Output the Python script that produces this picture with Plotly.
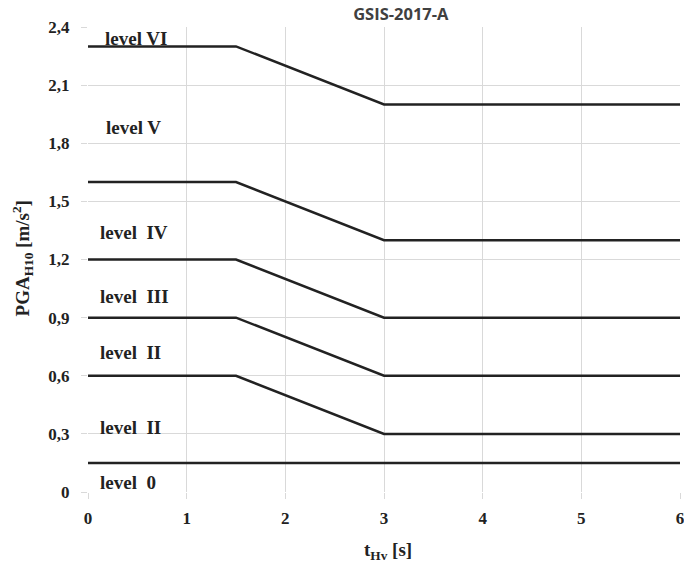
import plotly.graph_objects as go

# Data
t_points = [0, 1.5, 3, 6]
series = {
    "level 0 boundary": [0.15, 0.15, 0.15, 0.15],
    "II": [0.6, 0.6, 0.3, 0.3],
    "III": [0.9, 0.9, 0.6, 0.6],
    "IV": [1.2, 1.2, 0.9, 0.9],
    "V": [1.6, 1.6, 1.3, 1.3],
    "VI": [2.3, 2.3, 2.0, 2.0],
}
level_labels = ["level VI", "level V", "level  IV", "level  III", "level  II", "level  II", "level  0"]
level_label_y = [2.34, 1.88, 1.34, 1.01, 0.72, 0.335, 0.05]
level_label_x = [0.15, 0.16, 0.1, 0.1, 0.1, 0.1, 0.1]

y_tickvals = [0, 0.3, 0.6, 0.9, 1.2, 1.5, 1.8, 2.1, 2.4]
y_ticktext = ["0", "0,3", "0,6", "0,9", "1,2", "1,5", "1,8", "2,1", "2,4"]
x_tickvals = [0, 1, 2, 3, 4, 5, 6]
x_ticktext = ["0", "1", "2", "3", "4", "5", "6"]

serif = "Liberation Serif, Times New Roman, serif"
txtcol = "#222222"

fig = go.Figure()
for name, vals in series.items():
    fig.add_trace(go.Scatter(x=t_points, y=vals, mode="lines", name=name,
                             line=dict(color="#222222", width=2.5),
                             cliponaxis=False, showlegend=False, hoverinfo="skip"))

for txt, xv, yv in zip(level_labels, level_label_x, level_label_y):
    fig.add_annotation(x=xv, y=yv, text=txt, showarrow=False,
                       xanchor="left", yanchor="middle",
                       font=dict(family=serif, size=19, color=txtcol, weight="bold"))

# axis titles as annotations for precise placement
fig.add_annotation(xref="paper", yref="paper", x=-0.111, y=0.503,
                   text="PGA<sub>H10</sub> [m/s<sup>2</sup>]", textangle=-90, showarrow=False,
                   xanchor="center", yanchor="middle",
                   font=dict(family=serif, size=19, color=txtcol, weight="bold"))
fig.add_annotation(xref="paper", yref="paper", x=0.507, y=-0.127,
                   text="t<sub>Hv</sub> [s]", showarrow=False,
                   xanchor="center", yanchor="middle",
                   font=dict(family=serif, size=19, color=txtcol, weight="bold"))

fig.update_layout(
    width=684, height=564,
    margin=dict(l=88, r=4, t=27, b=72),
    paper_bgcolor="white", plot_bgcolor="white",
    title=dict(text="GSIS-2017-A", x=0.586, xanchor="center", y=0.974, yanchor="middle",
               font=dict(family="Open Sans, Liberation Sans, sans-serif", size=16.5,
                         color="#404040", weight="bold")),
    xaxis=dict(range=[0, 6], tickvals=x_tickvals, ticktext=x_ticktext, automargin=False,
               showgrid=True, gridcolor="#d9d9d9", gridwidth=1, zeroline=False, showline=False,
               ticks="outside", ticklen=6, tickcolor="#d9d9d9", ticklabeloverflow="allow",
               ticklabelstandoff=5,
               tickfont=dict(family=serif, size=17, color=txtcol, weight="bold")),
    yaxis=dict(range=[0, 2.4], tickvals=y_tickvals, ticktext=y_ticktext, automargin=False,
               showgrid=True, gridcolor="#d9d9d9", gridwidth=1, zeroline=False, showline=False,
               ticks="outside", ticklen=6, tickcolor="#d9d9d9", ticklabelstandoff=8,
               ticklabeloverflow="allow",
               tickfont=dict(family=serif, size=17, color=txtcol, weight="bold")),
)

fig.write_html("out.html", config={"displayModeBar": False},
               post_script="document.body.style.margin='0';document.body.style.overflow='hidden';")
